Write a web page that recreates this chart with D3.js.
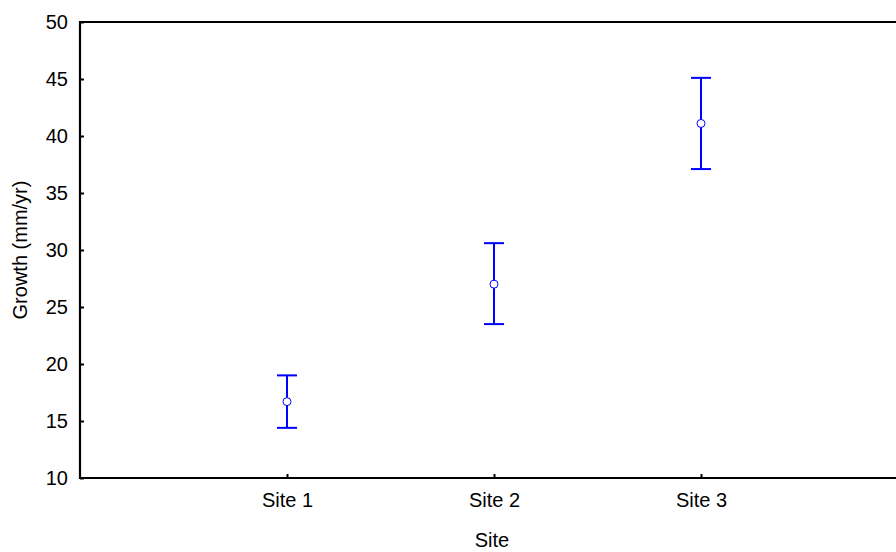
<!DOCTYPE html>
<html>
<head>
<meta charset="utf-8">
<script src="https://cdn.jsdelivr.net/npm/d3@7"></script>
<style>
  body { margin: 0; background: #fff; }
  text { font-family: "Liberation Sans", Arial, sans-serif; fill: #000; }
</style>
</head>
<body>
<div id="vis"></div>
<script>
// frame
const FRAME_WIDTH = 896;
const FRAME_HEIGHT = 552;
const MARGINS = {left: 80, top: 22, bottom: 74};
const FONT = "20px";

// data
const sites = ["Site 1", "Site 2", "Site 3"];
const means = [16.7, 27.0, 41.1];
const lower = [14.4, 23.5, 37.1];
const upper = [19.0, 30.6, 45.1];
const yTicks = [10, 15, 20, 25, 30, 35, 40, 45, 50];

const svg = d3.select("#vis")
  .append("svg")
    .attr("width", FRAME_WIDTH)
    .attr("height", FRAME_HEIGHT);

// scales (x positions 1..3 of a 0..4 range, right part cut off by the frame)
const X_SCALE = d3.scaleLinear()
  .domain([0, 4])
  .range([MARGINS.left, MARGINS.left + 4 * 207]);

const Y_SCALE = d3.scaleLinear()
  .domain([10, 50])
  .range([FRAME_HEIGHT - MARGINS.bottom, MARGINS.top]);

const bottom = FRAME_HEIGHT - MARGINS.bottom;

// y axis
const yAxis = svg.append("g")
  .attr("transform", "translate(" + MARGINS.left + ",0)")
  .call(d3.axisLeft(Y_SCALE).tickValues(yTicks).tickSize(-4).tickPadding(12));
yAxis.select(".domain").remove();
yAxis.selectAll("line").attr("stroke", "#000").attr("stroke-width", 2);
yAxis.selectAll("text").attr("font-size", FONT)
  .style("font-family", "Liberation Sans, Arial, sans-serif");

// x axis
const xAxis = svg.append("g")
  .attr("transform", "translate(0," + bottom + ")")
  .call(d3.axisBottom(X_SCALE).tickValues([1, 2, 3])
    .tickFormat((d) => sites[d - 1]).tickSize(-4).tickPadding(15));
xAxis.select(".domain").remove();
xAxis.selectAll("line").attr("stroke", "#000").attr("stroke-width", 2);
xAxis.selectAll("text").attr("font-size", FONT)
  .style("font-family", "Liberation Sans, Arial, sans-serif");

// frame lines: left, top, bottom
svg.append("path")
  .attr("d", "M" + FRAME_WIDTH + "," + Y_SCALE(50) + "H" + MARGINS.left +
    "V" + bottom + "H" + FRAME_WIDTH)
  .attr("fill", "none")
  .attr("stroke", "#000")
  .attr("stroke-width", 2.2);

// error bars
const bars = svg.selectAll(".bar")
  .data(sites)
  .enter()
  .append("g")
    .attr("class", "bar");

bars.append("line")
  .attr("x1", (d, i) => X_SCALE(i + 1))
  .attr("x2", (d, i) => X_SCALE(i + 1))
  .attr("y1", (d, i) => Y_SCALE(upper[i]))
  .attr("y2", (d, i) => Y_SCALE(lower[i]))
  .attr("stroke", "#0000ff").attr("stroke-width", 2);

bars.append("line")
  .attr("x1", (d, i) => X_SCALE(i + 1) - 10)
  .attr("x2", (d, i) => X_SCALE(i + 1) + 10)
  .attr("y1", (d, i) => Y_SCALE(upper[i]))
  .attr("y2", (d, i) => Y_SCALE(upper[i]))
  .attr("stroke", "#0000ff").attr("stroke-width", 2);

bars.append("line")
  .attr("x1", (d, i) => X_SCALE(i + 1) - 10)
  .attr("x2", (d, i) => X_SCALE(i + 1) + 10)
  .attr("y1", (d, i) => Y_SCALE(lower[i]))
  .attr("y2", (d, i) => Y_SCALE(lower[i]))
  .attr("stroke", "#0000ff").attr("stroke-width", 2);

bars.append("circle")
  .attr("cx", (d, i) => X_SCALE(i + 1))
  .attr("cy", (d, i) => Y_SCALE(means[i]))
  .attr("r", 4)
  .attr("fill", "#fff")
  .attr("stroke", "#0000ff")
  .attr("stroke-width", 1);

// axis titles
svg.append("text")
  .attr("x", (MARGINS.left + FRAME_WIDTH) / 2 + 4)
  .attr("y", 547)
  .attr("text-anchor", "middle")
  .attr("font-size", FONT)
  .text("Site");

svg.append("text")
  .attr("transform", "translate(27," + 250 + ") rotate(-90)")
  .attr("text-anchor", "middle")
  .attr("font-size", FONT)
  .text("Growth (mm/yr)");
</script>
</body>
</html>
